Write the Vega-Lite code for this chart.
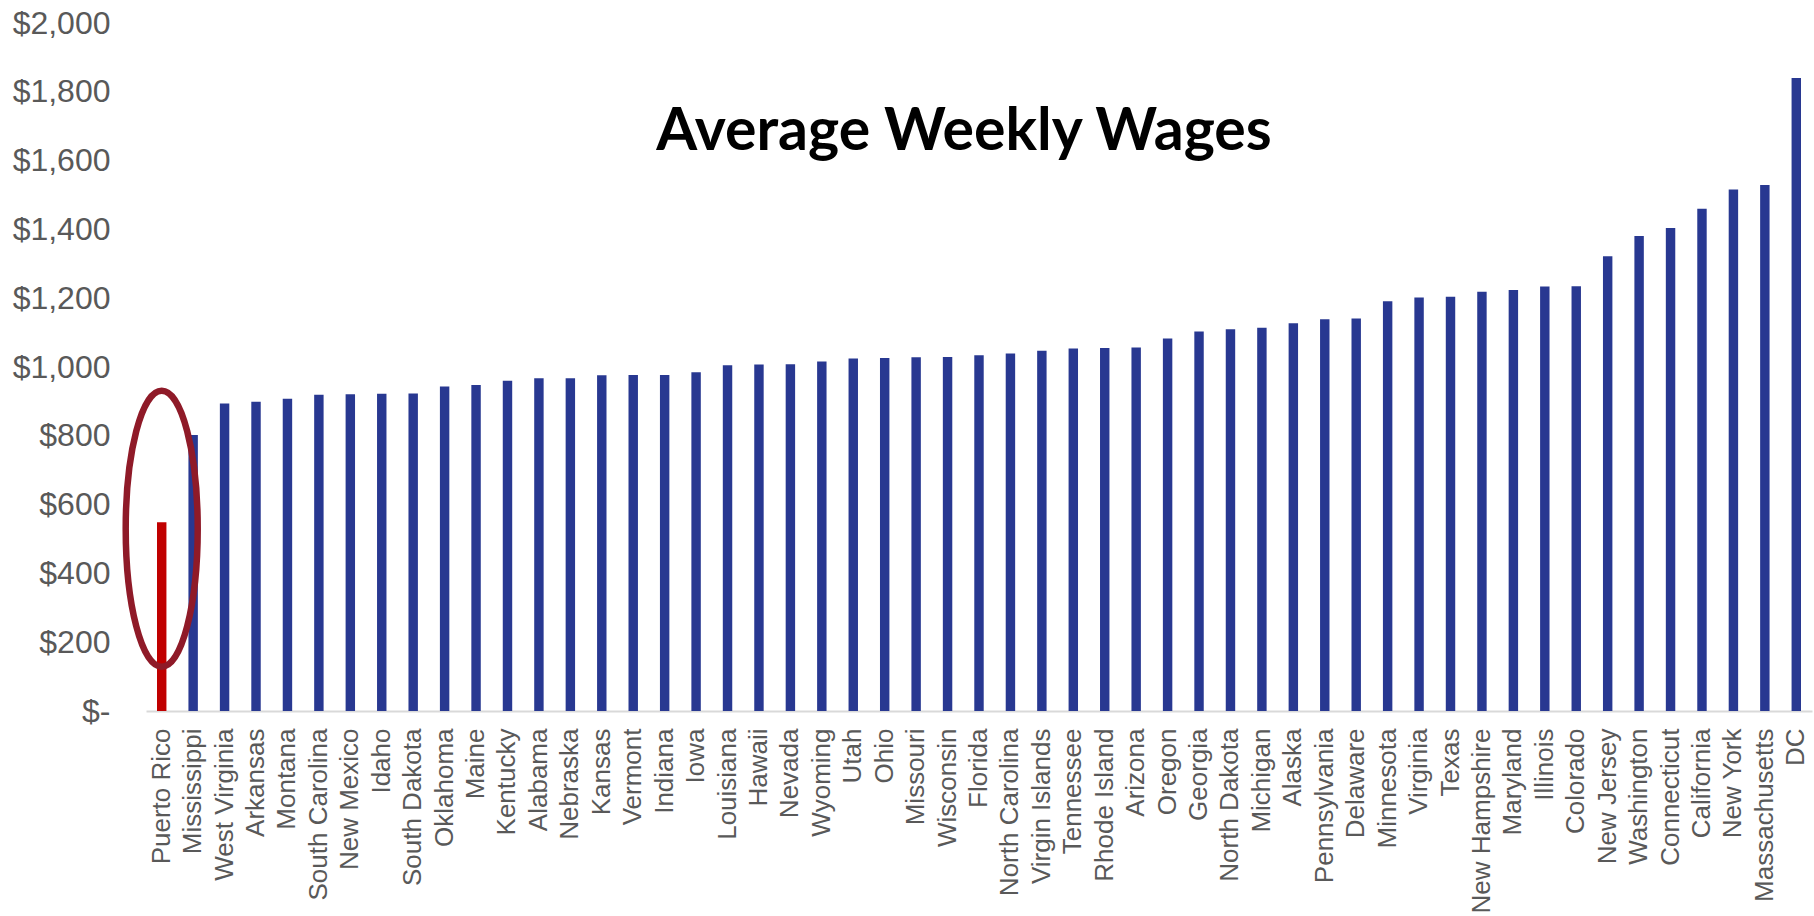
{
  "$schema": "https://vega.github.io/schema/vega-lite/v6.json",
  "width": 1666,
  "height": 688,
  "autosize": "none",
  "padding": {"left": 146, "top": 23, "right": 2, "bottom": 205},
  "background": "white",
  "title": {
    "text": "Average Weekly Wages",
    "font": "Lato",
    "fontSize": 59,
    "fontWeight": "bold",
    "color": "#000000",
    "anchor": "middle",
    "frame": "group",
    "orient": "top",
    "offset": 0,
    "baseline": "alphabetic",
    "dx": -15,
    "dy": 202
  },
  "config": {"view": {"stroke": null}, "axis": {"grid": false}},
  "data": {
    "values": [
      {"state": "Puerto Rico", "wage": 549},
      {"state": "Mississippi", "wage": 802},
      {"state": "West Virginia", "wage": 894},
      {"state": "Arkansas", "wage": 899},
      {"state": "Montana", "wage": 908},
      {"state": "South Carolina", "wage": 919},
      {"state": "New Mexico", "wage": 921},
      {"state": "Idaho", "wage": 922},
      {"state": "South Dakota", "wage": 923},
      {"state": "Oklahoma", "wage": 943},
      {"state": "Maine", "wage": 948},
      {"state": "Kentucky", "wage": 960},
      {"state": "Alabama", "wage": 967},
      {"state": "Nebraska", "wage": 967},
      {"state": "Kansas", "wage": 976},
      {"state": "Vermont", "wage": 977},
      {"state": "Indiana", "wage": 977},
      {"state": "Iowa", "wage": 985},
      {"state": "Louisiana", "wage": 1005},
      {"state": "Hawaii", "wage": 1007},
      {"state": "Nevada", "wage": 1008},
      {"state": "Wyoming", "wage": 1016},
      {"state": "Utah", "wage": 1025},
      {"state": "Ohio", "wage": 1026},
      {"state": "Missouri", "wage": 1028},
      {"state": "Wisconsin", "wage": 1029},
      {"state": "Florida", "wage": 1034},
      {"state": "North Carolina", "wage": 1039},
      {"state": "Virgin Islands", "wage": 1047},
      {"state": "Tennessee", "wage": 1054},
      {"state": "Rhode Island", "wage": 1055},
      {"state": "Arizona", "wage": 1057},
      {"state": "Oregon", "wage": 1083},
      {"state": "Georgia", "wage": 1103},
      {"state": "North Dakota", "wage": 1110},
      {"state": "Michigan", "wage": 1114},
      {"state": "Alaska", "wage": 1127},
      {"state": "Pennsylvania", "wage": 1139},
      {"state": "Delaware", "wage": 1141},
      {"state": "Minnesota", "wage": 1191},
      {"state": "Virginia", "wage": 1202},
      {"state": "Texas", "wage": 1204},
      {"state": "New Hampshire", "wage": 1219},
      {"state": "Maryland", "wage": 1224},
      {"state": "Illinois", "wage": 1234},
      {"state": "Colorado", "wage": 1235},
      {"state": "New Jersey", "wage": 1322},
      {"state": "Washington", "wage": 1381},
      {"state": "Connecticut", "wage": 1404},
      {"state": "California", "wage": 1460},
      {"state": "New York", "wage": 1516},
      {"state": "Massachusetts", "wage": 1529},
      {"state": "DC", "wage": 1840}
    ]
  },
  "layer": [
    {
      "mark": {"type": "bar"},
      "encoding": {
        "x": {
          "field": "state",
          "type": "nominal",
          "sort": null,
          "scale": {"paddingInner": 0.7, "paddingOuter": 0.35},
          "axis": {
            "title": null,
            "labelAngle": -90,
            "labelAlign": "right",
            "labelBaseline": "middle",
            "labelFont": "Liberation Sans",
            "labelFontSize": 26,
            "labelColor": "#595959",
            "labelPadding": 17,
            "labelOverlap": false,
            "labelLimit": 400,
            "ticks": false,
            "domainColor": "#D9D9D9",
            "domainWidth": 2
          }
        },
        "y": {
          "field": "wage",
          "type": "quantitative",
          "scale": {"domain": [0, 2000], "nice": false},
          "axis": {
            "title": null,
            "domain": false,
            "ticks": false,
            "values": [0, 200, 400, 600, 800, 1000, 1200, 1400, 1600, 1800, 2000],
            "labelExpr": "datum.value === 0 ? '$-\u00a0\u00a0' : '$' + format(datum.value, ',')",
            "labelFont": "Liberation Sans",
            "labelFontSize": 32,
            "labelColor": "#595959",
            "labelPadding": 36,
            "labelOverlap": false
          }
        },
        "color": {
          "condition": {"test": "datum.state === 'Puerto Rico'", "value": "#C00000"},
          "value": "#283891"
        }
      }
    },
    {
      "transform": [{"filter": "datum.state === 'Puerto Rico'"}],
      "mark": {
        "type": "point",
        "shape": "M 0 -1 A 0.2609 1 0 1 1 0 1 A 0.2609 1 0 1 1 0 -1 Z",
        "filled": false,
        "stroke": "#8F1A28",
        "strokeWidth": 6.5,
        "size": 76176,
        "opacity": 1
      },
      "encoding": {
        "x": {"field": "state", "type": "nominal", "sort": null},
        "y": {"datum": 530, "type": "quantitative", "scale": {"domain": [0, 2000], "nice": false}}
      }
    }
  ]
}
